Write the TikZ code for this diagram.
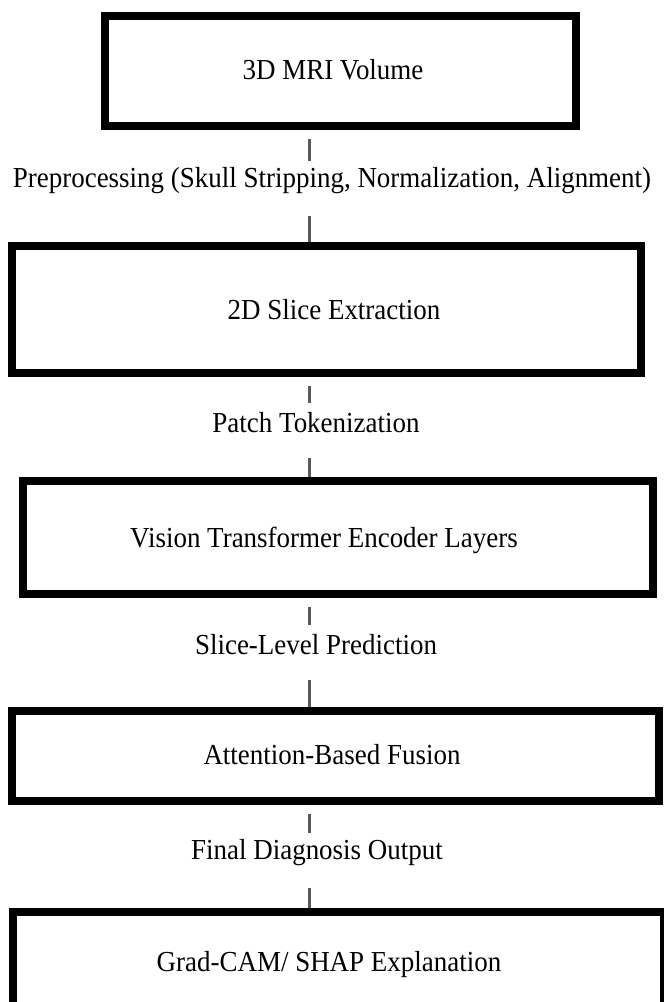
\documentclass[tikz,border=0pt]{standalone}
\usepackage{fontspec}
\setmainfont{Liberation Serif}[FakeStretch=0.93]
\begin{document}
\begin{tikzpicture}[x=1pt,y=-1pt,
  stagebox/.style={draw=black, line width=8pt, fill=white, inner sep=0pt},
  boxtext/.style={font=\fontsize{29}{33}\selectfont, inner sep=0pt},
  steplabel/.style={inner sep=0pt, minimum height=40pt, font=\fontsize{29}{33}\selectfont},
  conn/.style={draw=black!65, line width=3pt}]
\useasboundingbox[fill=white] (0,0) rectangle (664,1002);
\coordinate (spine) at (309,0);
% boxes
\node[stagebox, minimum width=471pt, minimum height=110pt] (b1) at (340.5,71) {};
\node[boxtext] (t1) at (333,70) {3D MRI Volume};
\node[stagebox, minimum width=629pt, minimum height=127pt] (b2) at (326.5,309.5) {};
\node[boxtext] (t2) at (334,310) {2D Slice Extraction};
\node[stagebox, minimum width=630pt, minimum height=113pt] (b3) at (338,537.5) {};
\node[boxtext] (t3) at (324,540) {Vision Transformer Encoder Layers};
\node[stagebox, minimum width=647pt, minimum height=90pt] (b4) at (335.5,756) {};
\node[boxtext] (t4) at (332,755) {Attention-Based Fusion};
\node[stagebox, minimum width=651pt, minimum height=104pt] (b5) at (338.5,964) {};
\node[boxtext] (t5) at (329,965) {Grad-CAM/ SHAP Explanation};
% step labels
\node[steplabel] (l1) at (332,181) {Preprocessing (Skull Stripping, Normalization, Alignment)};
\node[steplabel] (l2) at (316,423) {Patch Tokenization};
\node[steplabel] (l3) at (316,645) {Slice-Level Prediction};
\node[steplabel] (l4) at (317,853) {Final Diagnosis Output};
% connectors
\draw[conn, shorten <=9pt] (b1.south -| spine) -- (l1.north -| spine);
\draw[conn, shorten <=15pt] (l1.south -| spine) -- (b2.north -| spine);
\draw[conn, shorten <=9pt] (b2.south -| spine) -- (l2.north -| spine);
\draw[conn, shorten <=15pt] (l2.south -| spine) -- (b3.north -| spine);
\draw[conn, shorten <=9pt] (b3.south -| spine) -- (l3.north -| spine);
\draw[conn, shorten <=15pt] (l3.south -| spine) -- (b4.north -| spine);
\draw[conn, shorten <=9pt] (b4.south -| spine) -- (l4.north -| spine);
\draw[conn, shorten <=15pt] (l4.south -| spine) -- (b5.north -| spine);
\end{tikzpicture}
\end{document}
